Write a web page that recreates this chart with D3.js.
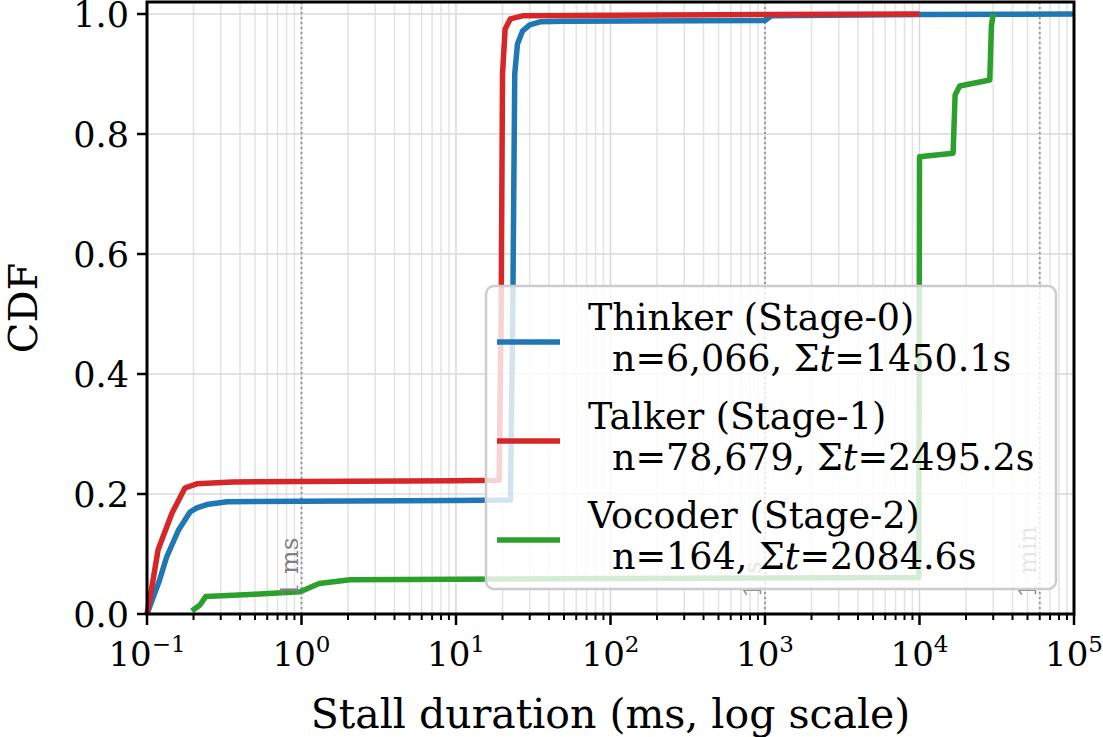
<!DOCTYPE html>
<html>
<head>
<meta charset="utf-8">
<script src="https://cdn.jsdelivr.net/npm/d3@7"></script>
<style>
  body { margin: 0; background: #fff; }
  svg { font-family: "DejaVu Serif", serif; }
</style>
</head>
<body>
<script>
// stall duration (ms) vs CDF
const thinkerX = [0.1, 0.12, 0.134, 0.16, 0.19, 0.21, 0.25, 0.33, 1, 10, 22.5, 23.3, 24, 25, 27, 30, 35, 50, 1000, 1100, 1e4, 1e5];
const thinkerY = [0, 0.055, 0.095, 0.14, 0.17, 0.177, 0.183, 0.187, 0.188, 0.189, 0.19, 0.5, 0.9, 0.95, 0.972, 0.982, 0.987, 0.988, 0.989, 0.997, 0.999, 1.0];

const talkerX = [0.1, 0.11, 0.118, 0.145, 0.176, 0.21, 0.36, 1, 10, 19, 19.6, 20, 20.8, 22.5, 27, 100, 1e4];
const talkerY = [0, 0.06, 0.107, 0.168, 0.21, 0.217, 0.22, 0.221, 0.222, 0.223, 0.5, 0.9, 0.975, 0.992, 0.997, 0.998, 1.0];

const vocoderX = [0.195, 0.22, 0.24, 0.5, 0.98, 1.3, 2.07, 100, 9900, 10000, 16500, 17000, 18200, 28500, 29200, 30000];
const vocoderY = [0.005, 0.015, 0.029, 0.033, 0.037, 0.051, 0.057, 0.059, 0.061, 0.762, 0.768, 0.865, 0.88, 0.89, 0.98, 1.0];

const seriesNames = ["Thinker (Stage-0)", "Talker (Stage-1)", "Vocoder (Stage-2)"];
const seriesN = ["6,066", "78,679", "164"];
const seriesSum = ["1450.1s", "2495.2s", "2084.6s"];
const seriesColors = ["#1f77b4", "#d62728", "#2ca02c"];

const refX = [1, 1000, 60000];
const refLabels = ["1 ms", "1 s", "1 min"];

const yTicks = [0, 0.2, 0.4, 0.6, 0.8, 1.0];
const xExponents = [-1, 0, 1, 2, 3, 4, 5];

const W = 1103, H = 737;
const L = 147, R = 1074, T = 2, B = 614;

const svg = d3.select("body").append("svg").attr("width", W).attr("height", H);

const x = d3.scaleLog().domain([0.1, 1e5]).range([L, R]);
const y = d3.scaleLinear().domain([0, 1.02]).range([B, T]);

// minor x positions
let minorX = [];
for (let e = -1; e < 5; e++) {
  for (let k = 2; k <= 9; k++) minorX.push(k * Math.pow(10, e));
}

const grid = svg.append("g");
grid.selectAll(".mx").data(minorX).enter().append("line")
  .attr("x1", d => x(d)).attr("x2", d => x(d))
  .attr("y1", T).attr("y2", B)
  .attr("stroke", "#e3e3e3").attr("stroke-width", 1.5);
grid.selectAll(".gx").data(xExponents).enter().append("line")
  .attr("x1", d => x(Math.pow(10, d))).attr("x2", d => x(Math.pow(10, d)))
  .attr("y1", T).attr("y2", B)
  .attr("stroke", "#d8d8d8").attr("stroke-width", 1.5);
grid.selectAll(".gy").data(yTicks).enter().append("line")
  .attr("x1", L).attr("x2", R)
  .attr("y1", d => y(d)).attr("y2", d => y(d))
  .attr("stroke", "#d8d8d8").attr("stroke-width", 1.5);

// reference lines
svg.selectAll(".ref").data(refX).enter().append("line")
  .attr("x1", d => x(d)).attr("x2", d => x(d))
  .attr("y1", T).attr("y2", B)
  .attr("stroke", "#999").attr("stroke-width", 2)
  .attr("stroke-dasharray", "2,3");

// curves
const line = d3.line().x(d => x(d[0])).y(d => y(d[1]));
const allX = [thinkerX, talkerX, vocoderX];
const allY = [thinkerY, talkerY, vocoderY];
allX.forEach((xs, i) => {
  svg.append("path")
    .datum(xs.map((v, j) => [v, allY[i][j]]))
    .attr("d", line)
    .attr("fill", "none")
    .attr("stroke", seriesColors[i])
    .attr("stroke-width", 5.5)
    .attr("stroke-linejoin", "round");
});

svg.selectAll(".refl").data(refX).enter().append("text")
  .attr("transform", d => "translate(" + (x(d) - 4) + "," + y(0.027) + ") rotate(-90)")
  .attr("font-size", 25).attr("fill", "#808080")
  .text((d, i) => refLabels[i]);

// legend
const lg = svg.append("g");
lg.append("rect")
  .attr("x", 486).attr("y", 286).attr("width", 570).attr("height", 303)
  .attr("rx", 8)
  .attr("fill", "#fff").attr("fill-opacity", 0.8)
  .attr("stroke", "#cccccc").attr("stroke-width", 2.5);
seriesNames.forEach((name, i) => {
  const y0 = 342 + i * 99;
  lg.append("line")
    .attr("x1", 497).attr("x2", 560).attr("y1", y0).attr("y2", y0)
    .attr("stroke", seriesColors[i]).attr("stroke-width", 5.5);
  lg.append("text").attr("x", 588).attr("y", y0 - 12)
    .attr("font-size", 36.5).text(name);
  const t2 = lg.append("text").attr("x", 612).attr("y", y0 + 29).attr("font-size", 36.5);
  t2.append("tspan").text("n=" + seriesN[i] + ", Σ");
  t2.append("tspan").attr("font-style", "italic").text("t");
  t2.append("tspan").text("=" + seriesSum[i]);
});

// axes
const ax = svg.append("g");
ax.append("rect").attr("x", L).attr("y", T).attr("width", R - L).attr("height", B - T)
  .attr("fill", "none").attr("stroke", "#000").attr("stroke-width", 3);

ax.selectAll(".ytk").data(yTicks).enter().append("line")
  .attr("x1", L - 10).attr("x2", L).attr("y1", d => y(d)).attr("y2", d => y(d))
  .attr("stroke", "#000").attr("stroke-width", 2.5);
ax.selectAll(".ytl").data(yTicks).enter().append("text")
  .attr("x", L - 18).attr("y", d => y(d) + 12.5)
  .attr("text-anchor", "end").attr("font-size", 35)
  .text(d => d3.format(".1f")(d));

ax.selectAll(".xmt").data(minorX).enter().append("line")
  .attr("x1", d => x(d)).attr("x2", d => x(d)).attr("y1", B).attr("y2", B + 6)
  .attr("stroke", "#000").attr("stroke-width", 2);
ax.selectAll(".xtk").data(xExponents).enter().append("line")
  .attr("x1", d => x(Math.pow(10, d))).attr("x2", d => x(Math.pow(10, d)))
  .attr("y1", B).attr("y2", B + 11)
  .attr("stroke", "#000").attr("stroke-width", 2.5);
const xl = ax.selectAll(".xtl").data(xExponents).enter().append("text")
  .attr("x", d => x(Math.pow(10, d)))
  .attr("y", 666)
  .attr("text-anchor", "middle").attr("font-size", 34);
xl.append("tspan").text("10");
xl.append("tspan").attr("font-size", 23).attr("dy", -14)
  .text(d => d < 0 ? "−" + Math.abs(d) : String(d));

svg.append("text").attr("x", (L + R) / 2).attr("y", 728)
  .attr("text-anchor", "middle").attr("font-size", 41)
  .text("Stall duration (ms, log scale)");
svg.append("text")
  .attr("transform", "translate(37," + ((T + B) / 2) + ") rotate(-90)")
  .attr("text-anchor", "middle").attr("font-size", 40)
  .text("CDF");
</script>
</body>
</html>
